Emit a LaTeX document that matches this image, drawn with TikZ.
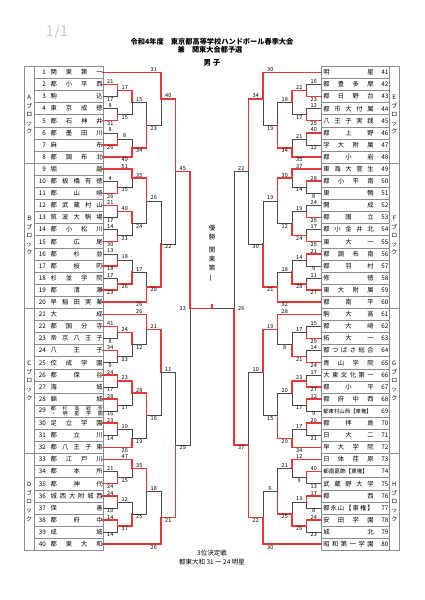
\documentclass[tikz,border=0pt]{standalone}
\usepackage{fontspec}
\setmainfont{Noto Sans CJK JP}
\usepackage{graphicx}
\usepackage{tikz}
\usetikzlibrary{calc,positioning}
\definecolor{winred}{HTML}{E53935}
\definecolor{rulegray}{HTML}{8C8C8C}
\definecolor{linegray}{HTML}{4A4A4A}
\newcommand\namefont{\fontsize{6.3}{7}\selectfont}
\newcommand\scorefont{\fontsize{5.5}{6}\selectfont}
\newcommand\blkfont{\fontsize{6}{8.6}\selectfont}
\newcommand\lteam[2]{\makebox[11pt][r]{#1}\makebox[5pt]{}\makebox[52pt][s]{#2}\hspace{0.5pt}}
\newcommand\rteam[2]{\hspace{1.5pt}\makebox[50.5pt][s]{#2}\makebox[14.5pt][r]{#1}\hspace{1.5pt}}
\newcommand\scoreshift{-7.25}
% one game: name, upper entry, lower entry, column, winner (1/2), upper score, lower score
\newcommand\bout[7]{%
  \path let \p1=($(#2)!.5!(#3)$), \p2=(#4) in (\x2,\y1) coordinate (#1);
  \draw[lossline] (#2) -| (#1);
  \draw[lossline] (#3) -| (#1);
  \ifnum#5=1 \draw[winline] (#2) -| (#1); \else \draw[winline] (#3) -| (#1); \fi
  \node[score, above] (#1u) at ($(#2 -| #4)+(\scoreshift,0)$) {#6};
  \node[score, below] (#1d) at ($(#3 -| #4)+(\scoreshift,0)$) {#7};
}

\begin{document}
\begin{tikzpicture}[x=1pt, y=-1pt,
    lrow/.style={rectangle, draw=rulegray, line width=0.4pt, minimum width=68.5pt, minimum height=12.1pt, inner sep=0pt, outer sep=0pt, font=\namefont},
    rrow/.style={lrow, minimum width=68pt},
    blk/.style={rectangle, draw=rulegray, line width=0.4pt, minimum width=10.5pt, inner sep=0pt, outer sep=0pt, align=center, font=\blkfont},
    score/.style={inner sep=0.6pt, font=\scorefont},
    winline/.style={draw=winred, line width=1.5pt, line cap=rect},
    lossline/.style={draw=linegray, line width=0.5pt}
]
\useasboundingbox (0,0) rectangle (425,600);

\node[font=\fontsize{15}{15}\selectfont, text=gray!40] (page) at (57,32) {1/1};
\node[font=\fontsize{7.2}{8}\selectfont\bfseries] (title) at (212,41.5) {令和4年度　東京都高等学校ハンドボール春季大会};
\node[font=\fontsize{7.2}{8}\selectfont\bfseries] (title2) at (210,49.5) {兼　関東大会都予選};
\node[font=\fontsize{7.5}{8}\selectfont\bfseries] (boys) at (212,63) {男 子};

% left list
\node[lrow] (r1) at (68.75,72.3) {\lteam{1}{関 東 第 一}};
\node[lrow, below=0pt of r1] (r2) {\lteam{2}{都 小 平 西}};
\node[lrow, below=0pt of r2] (r3) {\lteam{3}{駒 込}};
\node[lrow, below=0pt of r3] (r4) {\lteam{4}{東 京 成 徳}};
\node[lrow, below=0pt of r4] (r5) {\lteam{5}{都 石 神 井}};
\node[lrow, below=0pt of r5] (r6) {\lteam{6}{都 墨 田 川}};
\node[lrow, below=0pt of r6] (r7) {\lteam{7}{麻 布}};
\node[lrow, below=0pt of r7] (r8) {\lteam{8}{都 調 布 北}};
\node[lrow, below=0pt of r8] (r9) {\lteam{9}{堀 越}};
\node[lrow, below=0pt of r9] (r10) {\lteam{10}{都 板 橋 有 徳}};
\node[lrow, below=0pt of r10] (r11) {\lteam{11}{都 山 崎}};
\node[lrow, below=0pt of r11] (r12) {\lteam{12}{都 武 蔵 村 山}};
\node[lrow, below=0pt of r12] (r13) {\lteam{13}{筑 波 大 駒 場}};
\node[lrow, below=0pt of r13] (r14) {\lteam{14}{都 小 松 川}};
\node[lrow, below=0pt of r14] (r15) {\lteam{15}{都 広 尾}};
\node[lrow, below=0pt of r15] (r16) {\lteam{16}{都 杉 並}};
\node[lrow, below=0pt of r16] (r17) {\lteam{17}{都 桜 町}};
\node[lrow, below=0pt of r17] (r18) {\lteam{18}{杉 並 学 院}};
\node[lrow, below=0pt of r18] (r19) {\lteam{19}{都 清 瀬}};
\node[lrow, below=0pt of r19] (r20) {\lteam{20}{早 稲 田 実 業}};
\node[lrow, below=0pt of r20] (r21) {\lteam{21}{大 成}};
\node[lrow, below=0pt of r21] (r22) {\lteam{22}{都 国 分 寺}};
\node[lrow, below=0pt of r22] (r23) {\lteam{23}{帝 京 八 王 子}};
\node[lrow, below=0pt of r23] (r24) {\lteam{24}{八 王 子}};
\node[lrow, below=0pt of r24] (r25) {\lteam{25}{佼 成 学 園}};
\node[lrow, below=0pt of r25] (r26) {\lteam{26}{都 保 谷}};
\node[lrow, below=0pt of r26] (r27) {\lteam{27}{海 城}};
\node[lrow, below=0pt of r27] (r28) {\lteam{28}{錦 城}};
\node[lrow, below=0pt of r28] (r29) {\lteam{29}{\parbox[c]{52pt}{\fontsize{5}{5.4}\selectfont\makebox[52pt][s]{都 杉 並 総 合}\\\makebox[52pt][s]{・ 明 星 学 園}}}};
\node[lrow, below=0pt of r29] (r30) {\lteam{30}{足 立 学 園}};
\node[lrow, below=0pt of r30] (r31) {\lteam{31}{都 立 川}};
\node[lrow, below=0pt of r31] (r32) {\lteam{32}{都 八 王 子 東}};
\node[lrow, below=0pt of r32] (r33) {\lteam{33}{都 江 戸 川}};
\node[lrow, below=0pt of r33] (r34) {\lteam{34}{都 本 所}};
\node[lrow, below=0pt of r34] (r35) {\lteam{35}{都 神 代}};
\node[lrow, below=0pt of r35] (r36) {\lteam{36}{城 西 大 附 城 西}};
\node[lrow, below=0pt of r36] (r37) {\lteam{37}{保 善}};
\node[lrow, below=0pt of r37] (r38) {\lteam{38}{都 府 中}};
\node[lrow, below=0pt of r38] (r39) {\lteam{39}{成 城}};
\node[lrow, below=0pt of r39] (r40) {\lteam{40}{都 東 大 和}};

\node[blk, minimum height=96.8pt, anchor=north east] (bA) at (r1.north west) {A\\ブ\\ロ\\ッ\\ク};
\node[blk, minimum height=145.2pt, anchor=north east] (bB) at (r9.north west) {B\\ブ\\ロ\\ッ\\ク};
\node[blk, minimum height=145.2pt, anchor=north east] (bC) at (r21.north west) {C\\ブ\\ロ\\ッ\\ク};
\node[blk, minimum height=96.8pt, anchor=north east] (bD) at (r33.north west) {D\\ブ\\ロ\\ッ\\ク};

% right list
\node[rrow] (r41) at (355,72.3) {\rteam{41}{明 星}};
\node[rrow, below=0pt of r41] (r42) {\rteam{42}{都 豊 多 摩}};
\node[rrow, below=0pt of r42] (r43) {\rteam{43}{都 日 野 台}};
\node[rrow, below=0pt of r43] (r44) {\rteam{44}{都 市 大 付 属}};
\node[rrow, below=0pt of r44] (r45) {\rteam{45}{八 王 子 実 践}};
\node[rrow, below=0pt of r45] (r46) {\rteam{46}{都 上 野}};
\node[rrow, below=0pt of r46] (r47) {\rteam{47}{学 大 附 属}};
\node[rrow, below=0pt of r47] (r48) {\rteam{48}{都 小 岩}};
\node[rrow, below=0pt of r48] (r49) {\rteam{49}{東 海 大 菅 生}};
\node[rrow, below=0pt of r49] (r50) {\rteam{50}{都 小 平 南}};
\node[rrow, below=0pt of r50] (r51) {\rteam{51}{巣 鴨}};
\node[rrow, below=0pt of r51] (r52) {\rteam{52}{開 成}};
\node[rrow, below=0pt of r52] (r53) {\rteam{53}{都 国 立}};
\node[rrow, below=0pt of r53] (r54) {\rteam{54}{都 小 金 井 北}};
\node[rrow, below=0pt of r54] (r55) {\rteam{55}{東 大 一}};
\node[rrow, below=0pt of r55] (r56) {\rteam{56}{都 調 布 南}};
\node[rrow, below=0pt of r56] (r57) {\rteam{57}{都 羽 村}};
\node[rrow, below=0pt of r57] (r58) {\rteam{58}{修 徳}};
\node[rrow, below=0pt of r58] (r59) {\rteam{59}{東 大 附 属}};
\node[rrow, below=0pt of r59] (r60) {\rteam{60}{都 南 平}};
\node[rrow, below=0pt of r60] (r61) {\rteam{61}{駒 大 高}};
\node[rrow, below=0pt of r61] (r62) {\rteam{62}{都 大 崎}};
\node[rrow, below=0pt of r62] (r63) {\rteam{63}{拓 大 一}};
\node[rrow, below=0pt of r63] (r64) {\rteam{64}{都 つ ば さ 総 合}};
\node[rrow, below=0pt of r64] (r65) {\rteam{65}{青 山 学 院}};
\node[rrow, below=0pt of r65] (r66) {\rteam{66}{大 東 文 化 第 一}};
\node[rrow, below=0pt of r66] (r67) {\rteam{67}{都 小 平}};
\node[rrow, below=0pt of r67] (r68) {\rteam{68}{都 府 中 西}};
\node[rrow, below=0pt of r68] (r69) {\rteam{69}{{\fontsize{5.4}{6}\selectfont 都東村山西【東権】}\hfill}};
\node[rrow, below=0pt of r69] (r70) {\rteam{70}{都 拝 島}};
\node[rrow, below=0pt of r70] (r71) {\rteam{71}{日 大 二}};
\node[rrow, below=0pt of r71] (r72) {\rteam{72}{早 大 学 院}};
\node[rrow, below=0pt of r72] (r73) {\rteam{73}{日 体 荏 原}};
\node[rrow, below=0pt of r73] (r74) {\rteam{74}{{\fontsize{5.6}{6}\selectfont 都南葛飾【東権】}\hfill}};
\node[rrow, below=0pt of r74] (r75) {\rteam{75}{武 蔵 野 大 学}};
\node[rrow, below=0pt of r75] (r76) {\rteam{76}{都 西}};
\node[rrow, below=0pt of r76] (r77) {\rteam{77}{都 永 山 【 東 権 】}};
\node[rrow, below=0pt of r77] (r78) {\rteam{78}{安 田 学 園}};
\node[rrow, below=0pt of r78] (r79) {\rteam{79}{城 北}};
\node[rrow, below=0pt of r79] (r80) {\rteam{80}{昭 和 第 一 学 園}};

\node[blk, minimum height=96.8pt, anchor=north west] (bE) at (r41.north east) {E\\ブ\\ロ\\ッ\\ク};
\node[blk, minimum height=145.2pt, anchor=north west] (bF) at (r49.north east) {F\\ブ\\ロ\\ッ\\ク};
\node[blk, minimum height=145.2pt, anchor=north west] (bG) at (r61.north east) {G\\ブ\\ロ\\ッ\\ク};
\node[blk, minimum height=96.8pt, anchor=north west] (bH) at (r73.north east) {H\\ブ\\ロ\\ッ\\ク};

% columns of the draw
\coordinate (xa1) at (117.5,0);
\coordinate (xa2) at (132,0);
\coordinate (xa3) at (146.5,0);
\coordinate (xa4) at (161,0);
\coordinate (xa5) at (175.5,0);
\coordinate (xa6) at (190,0);
\coordinate (xb1) at (306.5,0);
\coordinate (xb2) at (292,0);
\coordinate (xb3) at (277.5,0);
\coordinate (xb4) at (263,0);
\coordinate (xb5) at (248.5,0);
\coordinate (xb6) at (234,0);
\coordinate (ctr) at (212,0);

% A
\bout{mA1}{r2.east}{r3.east}{xa1}{1}{21}{17}
\bout{mA2}{r4.east}{r5.east}{xa1}{2}{8}{31}
\bout{mA3}{r6.east}{r7.east}{xa1}{2}{8}{26}
\bout{mA4}{mA1}{mA2}{xa2}{1}{17}{15}
\bout{mA5}{mA3}{r8.east}{xa2}{2}{8}{49}
\bout{mA6}{mA4}{mA5}{xa3}{2}{15}{34}
\bout{mA7}{r1.east}{mA6}{xa4}{1}{31}{23}
% B
\bout{mB1}{r10.east}{r11.east}{xa1}{2}{4}{26}
\bout{mB2}{r9.east}{mB1}{xa2}{1}{51}{15}
\bout{mB3}{r12.east}{r13.east}{xa1}{1}{21}{17}
\bout{mB4}{r14.east}{r15.east}{xa1}{2}{14}{30}
\bout{mB5}{mB3}{mB4}{xa2}{1}{40}{21}
\bout{mB6}{mB2}{mB5}{xa3}{1}{35}{24}
\bout{mB7}{r16.east}{r17.east}{xa1}{2}{13}{18}
\bout{mB8}{r18.east}{r19.east}{xa1}{2}{17}{23}
\bout{mB9}{mB7}{mB8}{xa2}{2}{18}{26}
\bout{mB10}{mB9}{r20.east}{xa3}{2}{17}{26}
\bout{mB11}{mB6}{mB10}{xa4}{2}{26}{29}
\bout{mAB}{mA7}{mB11}{xa5}{1}{40}{22}
% C
\bout{mC1}{r22.east}{r23.east}{xa1}{1}{41}{8}
\bout{mC2}{r24.east}{r25.east}{xa1}{1}{34}{9}
\bout{mC3}{mC1}{mC2}{xa2}{1}{24}{23}
\bout{mC4}{r21.east}{mC3}{xa3}{1}{26}{12}
\bout{mC5}{r26.east}{r27.east}{xa1}{1}{24}{17}
\bout{mC6}{r28.east}{r29.east}{xa1}{1}{28}{16}
\bout{mC7}{mC5}{mC6}{xa2}{1}{23}{17}
\bout{mC8}{r30.east}{r31.east}{xa1}{1}{23}{14}
\bout{mC9}{mC8}{r32.east}{xa2}{2}{19}{26}
\bout{mC10}{mC7}{mC9}{xa3}{1}{28}{19}
\bout{mC11}{mC4}{mC10}{xa4}{1}{21}{16}
% D
\bout{mD1}{r34.east}{r35.east}{xa1}{2}{21}{24}
\bout{mD2}{r33.east}{mD1}{xa2}{1}{47}{15}
\bout{mD3}{r36.east}{r37.east}{xa1}{1}{24}{10}
\bout{mD4}{r38.east}{r39.east}{xa1}{1}{14}{14}
\bout{mD5}{mD3}{mD4}{xa2}{2}{12}{37}
\bout{mD6}{mD2}{mD5}{xa3}{1}{35}{25}
\bout{mD7}{mD6}{r40.east}{xa4}{2}{18}{26}
\bout{mCD}{mC11}{mD7}{xa5}{2}{11}{21}
\bout{mL}{mAB}{mCD}{xa6}{1}{45}{29}

\renewcommand\scoreshift{7.25}
% E
\bout{mE1}{r42.west}{r43.west}{xb1}{2}{16}{23}
\bout{mE2}{r44.west}{r45.west}{xb1}{2}{12}{25}
\bout{mE3}{mE1}{mE2}{xb2}{1}{22}{17}
\bout{mE4}{r46.west}{r47.west}{xb1}{1}{40}{12}
\bout{mE5}{mE4}{r48.west}{xb2}{2}{21}{35}
\bout{mE6}{mE3}{mE5}{xb3}{2}{18}{34}
\bout{mE7}{r41.west}{mE6}{xb4}{1}{30}{19}
% F
\bout{mF1}{r50.west}{r51.west}{xb1}{1}{28}{8}
\bout{mF2}{r49.west}{mF1}{xb2}{1}{37}{14}
\bout{mF3}{r52.west}{r53.west}{xb1}{2}{24}{25}
\bout{mF4}{r54.west}{r55.west}{xb1}{2}{17}{25}
\bout{mF5}{mF3}{mF4}{xb2}{2}{19}{24}
\bout{mF6}{mF2}{mF5}{xb3}{1}{30}{12}
\bout{mF7}{r56.west}{r57.west}{xb1}{1}{21}{9}
\bout{mF8}{r58.west}{r59.west}{xb1}{2}{11}{27}
\bout{mF9}{mF7}{mF8}{xb2}{2}{14}{28}
\bout{mF10}{mF9}{r60.west}{xb3}{2}{18}{32}
\bout{mF11}{mF6}{mF10}{xb4}{2}{19}{21}
\bout{mEF}{mE7}{mF11}{xb5}{1}{34}{30}
% G
\bout{mG1}{r62.west}{r63.west}{xb1}{2}{15}{29}
\bout{mG2}{r64.west}{r65.west}{xb1}{2}{14}{24}
\bout{mG3}{mG1}{mG2}{xb2}{2}{17}{21}
\bout{mG4}{r61.west}{mG3}{xb3}{1}{28}{8}
\bout{mG5}{r66.west}{r67.west}{xb1}{2}{17}{27}
\bout{mG6}{r68.west}{r69.west}{xb1}{1}{12}{9}
\bout{mG7}{mG5}{mG6}{xb2}{1}{23}{17}
\bout{mG8}{r70.west}{r71.west}{xb1}{1}{29}{21}
\bout{mG9}{mG8}{r72.west}{xb2}{2}{17}{34}
\bout{mG10}{mG7}{mG9}{xb3}{2}{20}{29}
\bout{mG11}{mG4}{mG10}{xb4}{1}{19}{15}
% H
\bout{mH1}{r74.west}{r75.west}{xb1}{1}{40}{13}
\bout{mH2}{r73.west}{mH1}{xb2}{1}{12}{9}
\bout{mH3}{r76.west}{r77.west}{xb1}{1}{17}{8}
\bout{mH4}{r78.west}{r79.west}{xb1}{1}{24}{23}
\bout{mH5}{mH3}{mH4}{xb2}{2}{13}{26}
\bout{mH6}{mH2}{mH5}{xb3}{2}{21}{25}
\bout{mH7}{mH6}{r80.west}{xb4}{2}{6}{30}
\bout{mGH}{mG11}{mH7}{xb5}{2}{10}{22}
\bout{mR}{mEF}{mGH}{xb6}{2}{22}{37}

% final
\coordinate (fin) at (mL -| ctr);
\draw[lossline] (mR) -- (fin);
\draw[winline] (mL) -- (fin);
\draw[winline] (fin) -- ++(0,-4);
\node[score] (finl) at ($(mL)+(-7.25,0)$) {33};
\node[score] (finr) at ($(mR)+(7.25,0)$) {26};
\node[align=center, font=\fontsize{6.5}{9}\selectfont] (champ) at (212,253) {優\\勝\\[4pt]関\\東\\第\\\rotatebox[origin=c]{90}{一}};

\node[font=\fontsize{6.5}{7}\selectfont] (third) at (212,553) {3位決定戦};
\node[font=\fontsize{6.5}{7}\selectfont] (thirdres) at (212,562) {都東大和 31 ー 24 明星};
\end{tikzpicture}
\end{document}
